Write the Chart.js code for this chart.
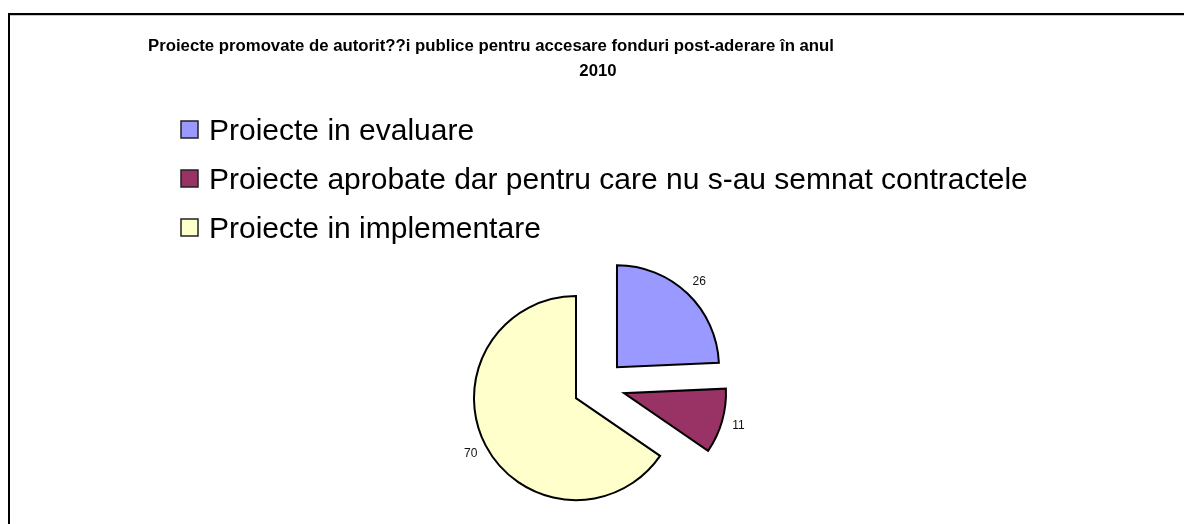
<!DOCTYPE html>
<html>
<head>
<meta charset="utf-8">
<script src="https://cdn.jsdelivr.net/npm/chart.js@4/dist/chart.umd.min.js"></script>
<style>
  html, body { margin: 0; padding: 0; background: #ffffff; }
  #wrap { position: relative; width: 1184px; height: 524px; overflow: hidden; background: #fff; }
  #frame { position: absolute; left: 8px; top: 13px; width: 1300px; height: 700px;
           border-top: 2px solid #000; border-left: 2px solid #000; box-sizing: border-box; }
  #frame::after { content: ""; position: absolute; left: 0; top: 0; right: 0; height: 1px; background: #c8c8c8; }
  canvas { position: absolute; left: 0; top: 0; }
</style>
</head>
<body>
<div id="wrap">
  <div id="frame"></div>
  <canvas id="c" width="1184" height="524"></canvas>
</div>
<script>
const titleLines = ["Proiecte promovate de autorit??i publice pentru accesare fonduri post-aderare în anul", "2010"];
const categories = ["Proiecte in evaluare", "Proiecte aprobate dar pentru care nu s-au semnat contractele", "Proiecte in implementare"];
const values = [26, 11, 70];
const colors = ["#9999FF", "#993366", "#FFFFCC"];

const EXPLODE = 26;
const FONT = "Arial, 'Liberation Sans', sans-serif";

const explodePlugin = {
  id: 'explode',
  beforeDatasetDraw(chart, args) {
    const ctx = chart.ctx;
    args.meta.data.forEach(arc => {
      const mid = (arc.startAngle + arc.endAngle) / 2;
      ctx.save();
      ctx.translate(Math.cos(mid) * EXPLODE, Math.sin(mid) * EXPLODE);
      arc.draw(ctx);
      ctx.restore();
    });
    return false;
  },
  afterDatasetsDraw(chart) {
    const ctx = chart.ctx;
    const meta = chart.getDatasetMeta(0);
    ctx.save();
    ctx.font = "12px " + FONT;
    ctx.fillStyle = "#111";
    ctx.textAlign = "center";
    ctx.textBaseline = "middle";
    meta.data.forEach((arc, i) => {
      const mid = (arc.startAngle + arc.endAngle) / 2;
      const r = EXPLODE + arc.outerRadius + 17;
      ctx.fillText(String(values[i]), arc.x + Math.cos(mid) * r, arc.y + Math.sin(mid) * r);
    });
    ctx.restore();
  }
};

const textPlugin = {
  id: 'texts',
  afterDraw(chart) {
    const ctx = chart.ctx;
    ctx.save();
    ctx.fillStyle = "#000";
    ctx.textBaseline = "alphabetic";
    ctx.font = "bold 16.75px " + FONT;
    ctx.textAlign = "left";
    ctx.fillText(titleLines[0], 148, 51);
    ctx.textAlign = "center";
    ctx.fillText(titleLines[1], 598, 76);
    // legend
    ctx.textAlign = "left";
    ctx.font = "30px " + FONT;
    categories.forEach((c, i) => {
      const cy = 129 + i * 49;
      ctx.fillStyle = colors[i];
      ctx.fillRect(181, cy - 8, 17, 17);
      ctx.strokeStyle = "#222";
      ctx.lineWidth = 1.5;
      ctx.strokeRect(181, cy - 8, 17, 17);
      ctx.fillStyle = "#000";
      ctx.fillText(c, 209, cy + 10.5);
    });
    ctx.restore();
  }
};

new Chart(document.getElementById('c'), {
  type: 'pie',
  data: {
    labels: categories,
    datasets: [{
      data: values,
      backgroundColor: colors,
      borderColor: "#000",
      borderWidth: 2,
      borderJoinStyle: 'miter',
      radius: 102
    }]
  },
  options: {
    responsive: false,
    animation: false,
    events: [],
    layout: { padding: { left: 14, right: 0, top: 248, bottom: 0 } },
    plugins: {
      legend: { display: false },
      title: { display: false },
      tooltip: { enabled: false }
    }
  },
  plugins: [explodePlugin, textPlugin]
});
</script>
</body>
</html>
